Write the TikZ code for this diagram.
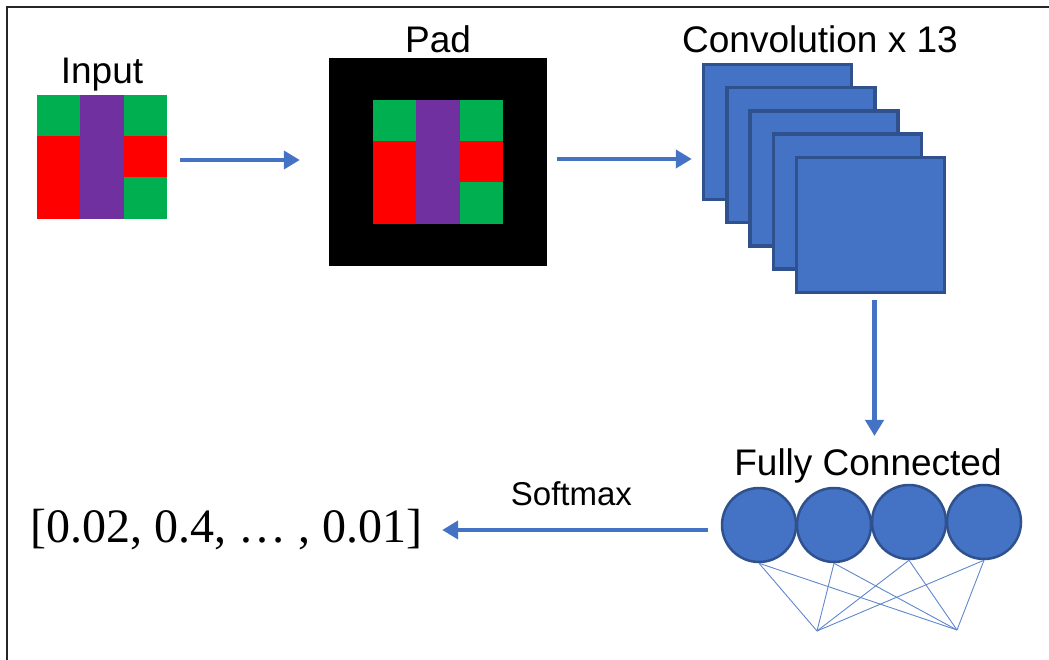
\documentclass[tikz,border=0pt]{standalone}
\usepackage[no-math]{fontspec}
\setmainfont{Liberation Sans}
\newfontfamily\outfont{Liberation Serif}
\usetikzlibrary{arrows.meta}

\definecolor{cgreen}{HTML}{00B050}
\definecolor{cred}{HTML}{FF0000}
\definecolor{cpurple}{HTML}{7030A0}
\definecolor{cblue}{HTML}{4472C4}
\definecolor{cdark}{HTML}{2F528F}

\tikzset{
  colgrid/.pic={
    \fill[cgreen] (0,0) rectangle (43,41);
    \fill[cred] (0,41) rectangle (43,124);
    \fill[cpurple] (43,0) rectangle (87,124);
    \fill[cgreen] (87,0) rectangle (130,41);
    \fill[cred] (87,41) rectangle (130,82);
    \fill[cgreen] (87,82) rectangle (130,124);
  }
}

\begin{document}
\begin{tikzpicture}[x=1pt, y=-1pt,
    lbl/.style={inner sep=0pt, anchor=base, text=black, font=\fontsize{37}{44}\selectfont},
    convbox/.style={draw=cdark, line width=3.5pt, fill=cblue, minimum width=148pt, minimum height=135pt, inner sep=0pt},
    neuron/.style={circle, draw=cdark, line width=2.5pt, fill=cblue, minimum size=74pt, inner sep=0pt},
    flow/.style={cblue, line width=4.5pt, -{Triangle[length=16pt, width=18pt]}},
    wire/.style={cblue!85, line width=0.9pt}]
      \useasboundingbox (0,0) rectangle (1049,660);
      \draw[line width=2pt, black!85] (7,660) -- (7,7) -- (1049,7);

      % input and padded input
      \node (input) [minimum width=130pt, minimum height=124pt, inner sep=0pt] at (102, 157) {};
      \pic at (input.north west) {colgrid};
      \node (inputlbl) [lbl] at (102, 84) {Input};

      \node (pad) [fill=black, minimum width=218pt, minimum height=208pt, inner sep=0pt] at (438, 162) {};
      \pic at (373, 100) {colgrid};
      \node (padlbl) [lbl] at (438, 53) {Pad};

      % convolution stack
      \foreach \i in {1,...,5}
        \node (conv\i) [convbox] at ({777.5+23.25*(\i-1)}, {132+23.25*(\i-1)}) {};
      \node (convlbl) [lbl] at (820, 53) {Convolution x 13};

      % fully connected layer
      \node (fc1) [neuron] at (759, 525) {};
      \node (fc2) [neuron] at (834, 525) {};
      \node (fc3) [neuron] at (909, 522) {};
      \node (fc4) [neuron] at (984, 522) {};
      \node (fclbl) [lbl] at (868, 475) {Fully Connected};
      \coordinate (b1) at (817, 631);
      \coordinate (b2) at (957, 630);
      \foreach \i in {1,...,4} {
        \draw[wire] (fc\i.south) -- (b1);
        \draw[wire] (fc\i.south) -- (b2);
      }

      \node (out) [inner sep=0pt, font=\outfont\fontsize{48}{57}\selectfont] at (226, 530) {[0.02, 0.4, … , 0.01]};

      \draw[flow, shorten <=13pt, shorten >=29pt] ([yshift=-3pt]input.east) -- ([yshift=-3pt]input.east -| pad.west);
      \draw[flow, shorten <=10pt, shorten >=10pt] ([yshift=3pt]pad.east) -- ([yshift=3pt]pad.east -| conv1.west);
      \draw[flow, shorten <=6pt, shorten >=12pt] ([xshift=4pt]conv5.south) -- ([xshift=4pt]conv5.south |- fclbl.north);
      \draw[flow, shorten <=13pt, shorten >=20pt] (fc1.west |- out.east) -- (out.east)
        node (softmax) [pos=0.5, lbl, yshift=25pt, font=\fontsize{33}{40}\selectfont] {Softmax};
\end{tikzpicture}
\end{document}
